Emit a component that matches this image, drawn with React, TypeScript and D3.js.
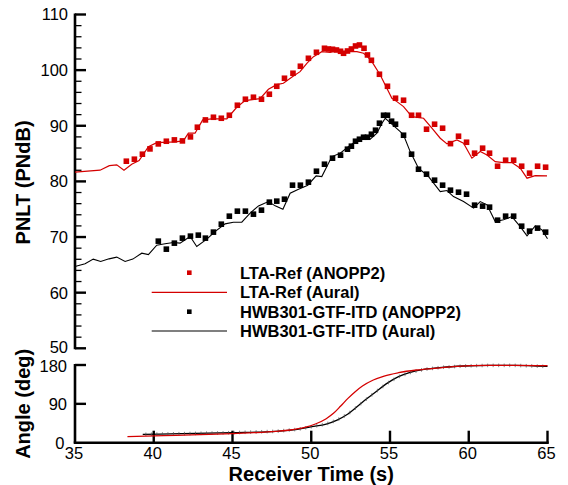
import React from "react";
import * as d3 from "d3";

// ---------- data ----------
const xTickValues = [35, 40, 45, 50, 55, 60, 65];
const pnltMajorTicks = [50, 60, 70, 80, 90, 100, 110];
const angleTickValues = [0, 90, 180];
const legendLabels = [
  "LTA-Ref (ANOPP2)",
  "LTA-Ref (Aural)",
  "HWB301-GTF-ITD (ANOPP2)",
  "HWB301-GTF-ITD (Aural)",
];

// LTA-Ref (ANOPP2) markers: [receiver time s, PNLT PNdB]
const ltaRefAnopp2: [number, number][] = [
  [38.26, 83.63], [38.77, 83.99], [39.28, 84.89], [39.76, 85.84], [40.29, 86.74],
  [40.8, 87.22], [41.31, 87.46], [41.82, 87.28], [42.33, 88.0], [42.77, 89.74],
  [43.28, 91.05], [43.79, 91.53], [44.29, 91.35], [44.8, 91.89], [45.31, 93.69],
  [45.82, 94.77], [46.33, 95.13], [46.84, 94.77], [47.34, 95.67], [47.81, 97.1],
  [48.3, 98.54], [48.84, 99.44], [49.31, 100.7], [49.82, 102.13], [50.33, 103.21],
  [50.84, 103.93], [51.09, 103.8], [51.35, 103.75], [51.6, 103.62], [51.86, 103.39],
  [52.05, 103.03], [52.3, 103.44], [52.55, 103.8], [52.81, 104.34], [53.06, 104.52],
  [53.35, 103.93], [53.57, 102.73], [53.82, 101.77], [54.33, 99.26], [54.84, 97.1],
  [55.35, 94.95], [55.86, 94.59], [56.37, 91.89], [56.81, 91.89], [57.32, 89.38],
  [57.83, 90.28], [58.34, 89.56], [58.84, 86.79], [59.35, 88.12], [59.86, 87.04],
  [60.37, 85.07], [60.88, 85.97], [61.32, 85.07], [61.83, 82.73], [62.34, 83.81],
  [62.85, 83.81], [63.36, 82.73], [63.86, 81.48], [64.37, 82.73], [64.88, 82.55],
];

// LTA-Ref (Aural) line
const ltaRefAural: [number, number][] = [
  [35.0, 81.65], [36.59, 82.01], [37.18, 82.84], [37.65, 82.97], [38.11, 82.01],
  [38.6, 83.09], [39.07, 83.74], [39.66, 86.25], [40.19, 86.97], [41.35, 87.1],
  [41.88, 87.28], [42.2, 88.66], [42.62, 88.66], [43.11, 91.05], [43.68, 91.23],
  [44.64, 91.23], [45.27, 93.33], [45.8, 94.52], [46.75, 94.88], [47.28, 96.56],
  [47.81, 97.39], [48.23, 97.64], [48.87, 98.95], [49.29, 99.73], [49.72, 101.23],
  [50.14, 102.42], [50.67, 103.32], [51.2, 103.21], [51.63, 103.44], [52.05, 103.03],
  [52.47, 103.32], [52.9, 103.32], [53.32, 103.03], [53.53, 102.55], [53.85, 101.52],
  [54.38, 99.13], [54.8, 96.74], [55.12, 94.95], [55.44, 94.34], [55.86, 93.44],
  [56.39, 91.64], [57.13, 91.35], [57.66, 89.56], [58.19, 87.76], [58.62, 86.74],
  [59.25, 87.46], [59.67, 86.86], [60.2, 84.17], [60.73, 85.36], [61.16, 84.76],
  [61.68, 83.56], [62.21, 83.38], [62.74, 83.38], [63.27, 82.37], [63.7, 80.58],
  [64.22, 81.04], [64.97, 80.99],
];

// HWB301-GTF-ITD (ANOPP2) markers
const hwbAnopp2: [number, number][] = [
  [40.29, 69.26], [40.8, 67.82], [41.31, 68.9], [41.82, 69.8], [42.33, 70.16],
  [42.83, 70.34], [43.28, 69.8], [43.79, 70.88], [44.29, 72.31], [44.8, 73.75],
  [45.31, 74.65], [45.82, 74.65], [46.33, 74.11], [46.84, 74.83], [47.34, 76.27],
  [47.81, 76.45], [48.3, 76.8], [48.81, 79.32], [49.31, 79.32], [49.82, 79.86],
  [50.33, 81.83], [50.84, 83.09], [51.35, 84.17], [51.86, 84.71], [52.3, 85.79],
  [52.55, 86.33], [52.81, 87.22], [53.06, 87.58], [53.32, 87.94], [53.57, 87.94],
  [53.82, 88.48], [54.08, 89.2], [54.33, 90.46], [54.59, 91.89], [54.84, 91.89],
  [55.1, 90.82], [55.35, 90.28], [55.86, 88.3], [56.37, 84.89], [56.81, 82.19],
  [57.32, 81.3], [57.83, 80.22], [58.34, 79.32], [58.84, 78.42], [59.35, 78.06],
  [59.86, 77.7], [60.37, 75.73], [60.88, 75.55], [61.32, 75.37], [61.83, 73.03],
  [62.34, 73.75], [62.85, 73.75], [63.36, 71.95], [63.86, 71.06], [64.37, 71.6],
  [64.88, 70.88],
];

// HWB301-GTF-ITD (Aural) line
const hwbAural: [number, number][] = [
  [35.0, 64.7], [35.64, 65.18], [36.16, 66.03], [36.63, 65.6], [37.16, 66.08],
  [37.65, 66.39], [38.18, 65.6], [38.67, 66.03], [39.24, 67.1], [39.66, 66.85],
  [40.19, 68.54], [40.72, 68.78], [41.25, 69.01], [41.67, 68.9], [42.31, 70.09],
  [42.73, 68.29], [43.37, 69.62], [43.89, 70.98], [44.53, 72.37], [45.06, 72.67],
  [45.59, 72.67], [46.12, 74.29], [46.65, 75.6], [47.28, 76.37], [47.71, 75.6],
  [48.2, 75.01], [48.66, 77.88], [49.19, 78.6], [49.78, 79.32], [50.31, 80.99],
  [50.67, 80.86], [51.31, 84.46], [51.84, 85.07], [52.36, 86.25], [52.79, 87.15],
  [53.21, 87.58], [53.74, 87.58], [54.17, 88.66], [54.49, 90.46], [54.7, 91.35],
  [55.01, 90.56], [55.65, 88.95], [55.86, 88.35], [56.28, 85.36], [56.81, 82.37],
  [57.45, 80.86], [58.19, 78.17], [58.62, 78.35], [59.03, 77.27], [59.67, 76.37],
  [60.31, 75.19], [60.73, 76.37], [61.16, 75.78], [61.68, 72.78], [62.21, 73.09],
  [62.74, 73.68], [63.27, 71.88], [63.7, 70.21], [64.22, 72.01], [64.65, 71.29],
  [65.0, 69.7],
];

// Emission angle (deg) vs receiver time
const ltaRefAngle: [number, number][] = [
  [38.33, 13.9], [40.62, 16.2], [42.92, 18.5], [44.99, 20.9], [46.36, 23.2],
  [47.74, 26.3], [48.66, 29.4], [49.58, 35.5], [50.26, 43.3], [50.95, 55.6],
  [51.41, 68.0], [51.87, 85.0], [52.33, 102.7], [52.79, 118.2], [53.25, 131.3],
  [53.94, 145.2], [54.63, 154.5], [55.54, 162.2], [56.69, 168.4], [57.84, 172.3],
  [58.99, 176.1], [60.13, 178.4], [61.28, 179.2], [62.89, 179.2], [65.0, 178.4],
];
const hwbAngle: [number, number][] = [
  [39.3, 19.3], [41.77, 20.9], [44.99, 23.2], [47.74, 26.3], [49.12, 30.9],
  [50.03, 37.1], [50.95, 43.3], [51.64, 52.5], [52.33, 66.4], [53.02, 86.5],
  [53.48, 100.4], [54.17, 120.0], [54.86, 138.5], [55.54, 152.9], [56.23, 162.2],
  [57.15, 169.9], [58.3, 174.6], [59.68, 177.7], [61.28, 179.2], [62.89, 179.2],
  [65.0, 176.6],
];

// ---------- styles ----------
const W = 568;
const H = 485;
const RED = "#d40000";
const BLACK = "#000000";
const FONT = "'Liberation Sans', Arial, Helvetica, sans-serif";

export default function App() {
  const x = d3.scaleLinear().domain([35, 65]).range([75, 547.5]);
  const yTop = d3.scaleLinear().domain([50, 110]).range([348.3, 14.5]);
  const yBot = d3.scaleLinear().domain([0, 180]).range([442.7, 365]);

  const lineTop = d3
    .line<[number, number]>()
    .x((d) => x(d[0]))
    .y((d) => yTop(d[1]));
  const lineBot = d3
    .line<[number, number]>()
    .x((d) => x(d[0]))
    .y((d) => yBot(d[1]))
    .curve(d3.curveMonotoneX);

  const minorTop = d3.range(50, 111, 2).filter((v) => v % 10 !== 0);
  const axisW = 2.6;
  const majorLen = 11;
  const minorLen = 6.5;
  const sq = 5.6;
  const legendSq = 4.6;
  const tickFont = 16.5;

  // tiny hatch marks along the black angle curve
  const hatchTimes = d3.range(39.5, 65, 0.35);
  const angleInterp = (pts: [number, number][], t: number) => {
    const i = d3.bisector((d: [number, number]) => d[0]).right(pts, t);
    const a = pts[Math.max(0, i - 1)];
    const b = pts[Math.min(pts.length - 1, i)];
    if (a[0] === b[0]) return a[1];
    return a[1] + ((b[1] - a[1]) * (t - a[0])) / (b[0] - a[0]);
  };

  const legendX0 = 151.7;
  const legendX1 = 227;
  const legendTextX = 240;
  const legendRows = [272.7, 292.3, 311.7, 331];

  return (
    <div style={{ position: "absolute", left: 0, top: 0 }}>
      <svg width={W} height={H} style={{ display: "block", background: "#fff" }} fontFamily={FONT}>
        {/* ---------- top panel ---------- */}
        <line x1={x(35)} x2={x(35)} y1={yTop(110) - 1} y2={yTop(50) + 1} stroke={BLACK} strokeWidth={axisW} />
        {pnltMajorTicks.map((v) => (
          <g key={"tm" + v}>
            <line x1={x(35)} x2={x(35) + majorLen} y1={yTop(v)} y2={yTop(v)} stroke={BLACK} strokeWidth={2.4} />
            <text x={68} y={yTop(v) - (v === 50 ? 1 : 0)} dy="0.36em" textAnchor="end" fontSize={tickFont}>
              {v}
            </text>
          </g>
        ))}
        {minorTop.map((v) => (
          <line key={"tn" + v} x1={x(35)} x2={x(35) + minorLen} y1={yTop(v)} y2={yTop(v)} stroke={BLACK} strokeWidth={1.3} />
        ))}
        <text
          transform={`translate(29.5, ${(yTop(110) + yTop(50)) / 2 + 1}) rotate(-90)`}
          textAnchor="middle"
          fontSize={20}
          fontWeight="bold"
        >
          PNLT (PNdB)
        </text>

        <path d={lineTop(ltaRefAural) || ""} fill="none" stroke={RED} strokeWidth={1.2} />
        <path d={lineTop(hwbAural) || ""} fill="none" stroke={BLACK} strokeWidth={1.1} />
        {ltaRefAnopp2.map((d, i) => (
          <rect key={"rm" + i} x={x(d[0]) - sq / 2} y={yTop(d[1]) - sq / 2} width={sq} height={sq} fill={RED} />
        ))}
        {hwbAnopp2.map((d, i) => (
          <rect key={"bm" + i} x={x(d[0]) - sq / 2} y={yTop(d[1]) - sq / 2} width={sq} height={sq} fill={BLACK} />
        ))}

        {/* legend */}
        <rect x={189.3 - legendSq / 2} y={legendRows[0] - legendSq / 2} width={legendSq} height={legendSq} fill={RED} />
        <line x1={legendX0} x2={legendX1} y1={legendRows[1]} y2={legendRows[1]} stroke={RED} strokeWidth={1.3} />
        <rect x={189.3 - legendSq / 2} y={legendRows[2] - legendSq / 2} width={legendSq} height={legendSq} fill={BLACK} />
        <line x1={legendX0} x2={legendX1} y1={legendRows[3]} y2={legendRows[3]} stroke={BLACK} strokeWidth={1.2} />
        {legendLabels.map((l, i) => (
          <text key={l} x={legendTextX} y={legendRows[i]} dy="0.36em" fontSize={16.5} fontWeight="bold">
            {l}
          </text>
        ))}

        {/* ---------- bottom panel ---------- */}
        <line x1={x(35)} x2={x(35)} y1={yBot(180) - 1} y2={yBot(0)} stroke={BLACK} strokeWidth={axisW} />
        <line x1={x(35) - 1.3} x2={x(65) + 1.3} y1={yBot(0)} y2={yBot(0)} stroke={BLACK} strokeWidth={axisW} />
        {angleTickValues.map((v) => (
          <g key={"am" + v}>
            {v > 0 && (
              <line x1={x(35)} x2={x(35) + majorLen} y1={yBot(v)} y2={yBot(v)} stroke={BLACK} strokeWidth={2.4} />
            )}
            <text
              x={v === 0 ? 64.5 : 67}
              y={yBot(v) + (v === 180 ? 1.3 : 0)}
              dy="0.36em"
              textAnchor="end"
              fontSize={tickFont}
            >
              {v}
            </text>
          </g>
        ))}
        {xTickValues.map((t) => (
          <g key={"xt" + t}>
            {t > 35 && (
              <line x1={x(t)} x2={x(t)} y1={yBot(0)} y2={yBot(0) - majorLen - 1} stroke={BLACK} strokeWidth={2.4} />
            )}
            <text x={x(t) - 1} y={458.5} textAnchor="middle" fontSize={tickFont}>
              {t}
            </text>
          </g>
        ))}
        <text
          transform={`translate(30, ${(yBot(180) + yBot(0)) / 2}) rotate(-90)`}
          textAnchor="middle"
          fontSize={20}
          fontWeight="bold"
        >
          Angle (deg)
        </text>
        <text x={(x(35) + x(65)) / 2} y={480.5} textAnchor="middle" fontSize={20} fontWeight="bold">
          Receiver Time (s)
        </text>

        <path d={lineBot(hwbAngle) || ""} fill="none" stroke={BLACK} strokeWidth={1.3} />
        {hatchTimes.map((t, i) => {
          const yy = yBot(angleInterp(hwbAngle, t));
          return (
            <line key={"h" + i} x1={x(t)} x2={x(t)} y1={yy - 1.8} y2={yy + 1.8} stroke="#555" strokeWidth={0.7} />
          );
        })}
        <path d={lineBot(ltaRefAngle) || ""} fill="none" stroke={RED} strokeWidth={1.3} />
      </svg>
    </div>
  );
}
